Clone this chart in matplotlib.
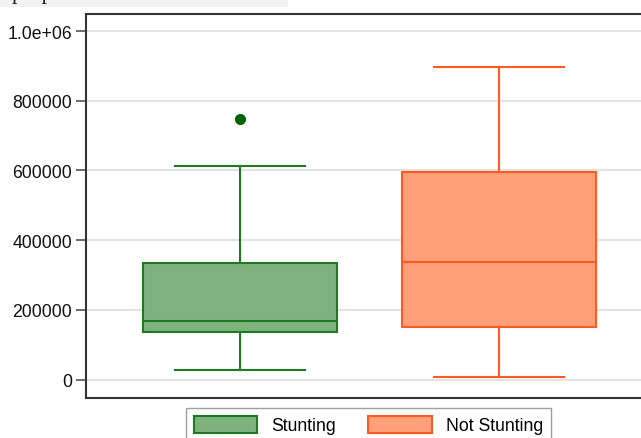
import matplotlib
matplotlib.use("Agg")
import matplotlib.pyplot as plt
from matplotlib.patches import Patch, Rectangle

plt.rcParams['font.family'] = ['Liberation Sans', 'DejaVu Sans']

# summary values
groups = ['Stunting', 'Not Stunting']
whislo = [26000, 6000]
q1 = [135000, 150000]
med = [167000, 337000]
q3 = [333000, 596000]
whishi = [614000, 898000]
fliers = [[748000], []]

fills = ['#80b280', '#ffa07a']
edges = ['#1e7a1e', '#ff5a1f']
flier_color = '#006400'

yticks = [0, 200000, 400000, 600000, 800000, 1000000]
ytick_labels = ['0', '200000', '400000', '600000', '800000', '1.0e+06']

fig = plt.figure(figsize=(6.41, 4.39), dpi=100)
# axes runs off the right edge, like the cropped original
ax = fig.add_axes([86 / 641, 1 - 399 / 439, 567 / 641, 384 / 439])

stats = []
for i, g in enumerate(groups):
    stats.append(dict(label=g, whislo=whislo[i], q1=q1[i], med=med[i],
                      q3=q3[i], whishi=whishi[i], fliers=fliers[i]))

for i, s in enumerate(stats):
    ax.bxp([s], positions=[i + 1], widths=0.75, patch_artist=True,
           showfliers=True,
           boxprops=dict(facecolor=fills[i], edgecolor=edges[i], linewidth=1.5),
           medianprops=dict(color=edges[i], linewidth=1.5),
           whiskerprops=dict(color=edges[i], linewidth=1.5),
           capprops=dict(color=edges[i], linewidth=1.5),
           capwidths=0.5,
           flierprops=dict(marker='o', markerfacecolor=flier_color,
                           markeredgecolor=flier_color, markersize=7))

ax.set_xlim(0.405, 2.595)
ax.set_ylim(-53000, 1049000)
ax.set_yticks(yticks)
ax.set_yticklabels(ytick_labels)
ax.set_xticks([])
ax.tick_params(axis='y', length=7, width=1.2, color='#555555',
               labelsize=12.7, labelcolor='#111111', pad=3)
ax.yaxis.grid(True, color='#e3e3e3', linewidth=1.5)
ax.set_axisbelow(True)
for side in ['left', 'top', 'bottom']:
    ax.spines[side].set_color('#333333')
    ax.spines[side].set_linewidth(1.5)
ax.spines['right'].set_visible(False)

handles = [Patch(facecolor=fills[i], edgecolor=edges[i], linewidth=1.5, label=g)
           for i, g in enumerate(groups)]
fig.legend(handles=handles, loc='upper left', bbox_to_anchor=(186 / 641, 1 - 409 / 439),
           ncol=2, frameon=True, fancybox=False, edgecolor='#888888',
           fontsize=12.7, handlelength=3.6, handleheight=1.1, columnspacing=1.8,
           borderpad=0.45, borderaxespad=0)

# leftover strip of the cropped title above the chart
fig.patches.append(Rectangle((0, 1 - 8 / 439), 288 / 641, 8 / 439,
                             transform=fig.transFigure, facecolor='#f2f2f2',
                             edgecolor='none', zorder=0))
fig.text(12 / 641, 1 + 1 / 439, 'proportion of value added', family='Liberation Serif',
         fontsize=16, color='#222222', va='baseline')

fig.savefig('out.png', dpi=100)
